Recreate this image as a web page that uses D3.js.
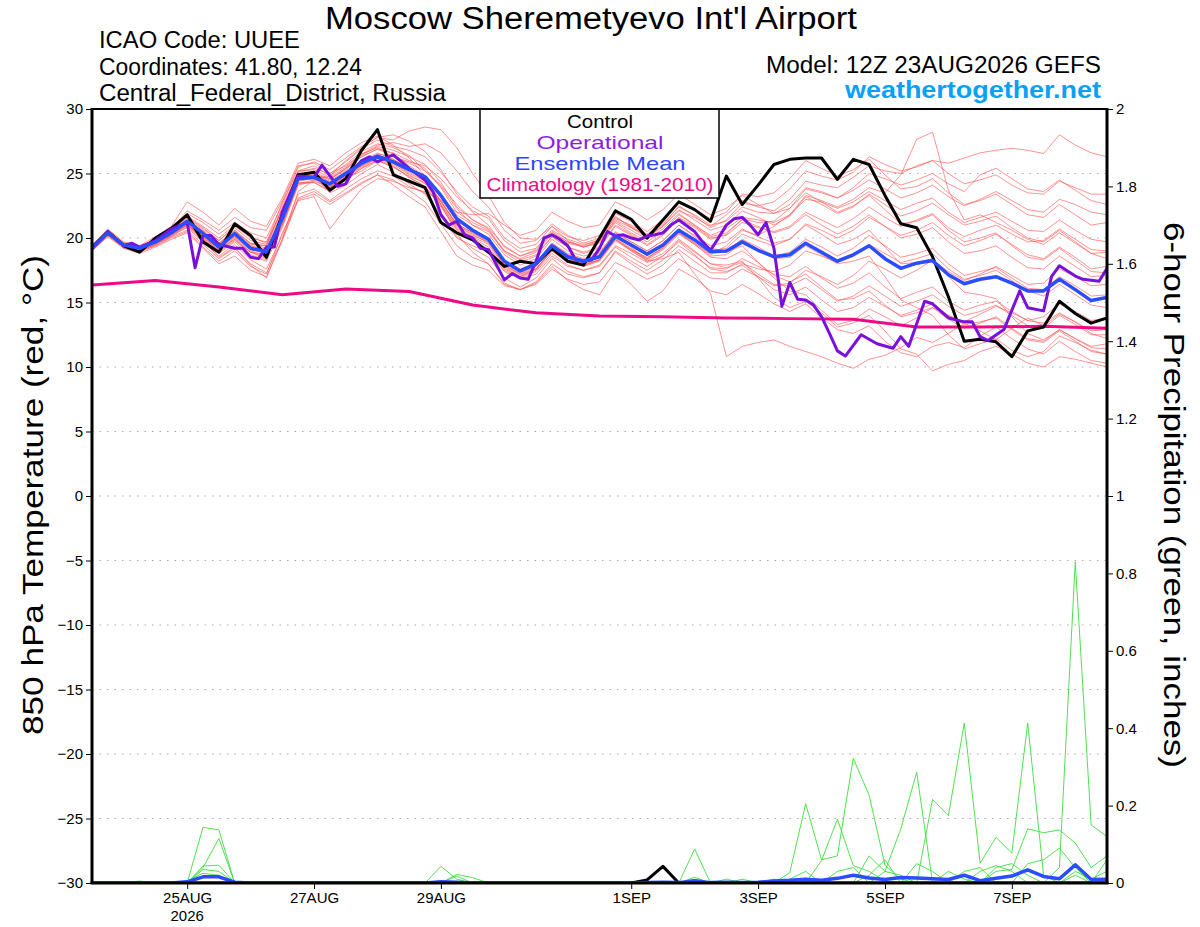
<!DOCTYPE html>
<html>
<head>
<meta charset="utf-8">
<script src="https://cdn.jsdelivr.net/npm/d3@7"></script>
<style>
  body { margin: 0; background: #fff; }
  text { font-family: "Liberation Sans", Arial, Helvetica, sans-serif; }
</style>
</head>
<body>
<div id="chart"></div>
<script>

// ---- data ----------------------------------------------------------------

// forecast starts 12Z 23AUG2026, ensemble every 6 hours
var runStart = Date.UTC(2026, 7, 23, 12);
var runEnd = Date.UTC(2026, 8, 8, 12);
var stepHours = 6;

var tempTicks = [-30, -25, -20, -15, -10, -5, 0, 5, 10, 15, 20, 25, 30];
var gridTicks = [-25, -20, -15, -10, -5, 0, 5, 10, 15, 20, 25];
var precipTicks = [0, 0.2, 0.4, 0.6, 0.8, 1, 1.2, 1.4, 1.6, 1.8, 2];
var dateTicks = [Date.UTC(2026, 7, 25), Date.UTC(2026, 7, 27), Date.UTC(2026, 7, 29),
                 Date.UTC(2026, 8, 1), Date.UTC(2026, 8, 3), Date.UTC(2026, 8, 5), Date.UTC(2026, 8, 7)];
var dateLabels = ['25AUG', '27AUG', '29AUG', '1SEP', '3SEP', '5SEP', '7SEP'];

var controlTemp = [
  19.3, 20.5, 19.4, 18.9, 20.0, 20.75, 21.8, 19.7, 18.9, 21.1, 20.2, 18.5,
  21.8, 24.9, 25.1, 23.7, 24.6, 26.8, 28.4, 24.9, 24.4, 23.9, 21.2, 20.4,
  19.85, 18.9, 17.8, 18.2, 18.0, 19.2, 18.2, 17.9, 20.0, 22.1, 21.45, 20.0, 21.4, 22.8, 22.2, 21.3,
  24.8, 22.6, 24.1, 25.7, 26.1, 26.2, 26.2, 24.55, 26.1, 25.7, 23.3, 21.1, 20.8, 18.55, 15.45,
  12.0, 12.15, 11.95, 10.8, 12.8, 13.1, 15.1, 14.15, 13.4, 13.8
];

var ensMeanTemp = [
  19.2, 20.4, 19.45, 19.2, 19.7, 20.4, 21.3, 20.35, 19.3, 20.35, 19.2, 18.95,
  21.5, 24.6, 24.7, 24.2, 25.0, 25.8, 26.35, 25.9, 25.3, 24.75, 23.3, 21.5,
  20.6, 19.9, 18.2, 17.45, 18.0, 19.4, 18.55, 18.2, 18.55, 20.15, 19.45, 18.75, 19.45, 20.6, 19.85, 18.95,
  19.0, 19.7, 19.05, 18.55, 18.7, 19.6, 18.9, 18.2, 18.7, 19.4, 18.4, 17.65, 18.05, 18.25, 17.15,
  16.45, 16.8, 17.0, 16.5, 15.9, 15.9, 16.8, 16.0, 15.15, 15.4
];

// operational run has 3-hourly output, hours after run start
var opHours = [0, 6, 12, 15, 18, 24, 30, 36, 39, 42, 45, 48, 54, 57, 60, 63, 66, 69, 72, 78,
  84, 87, 93, 96, 99, 102, 105, 108, 111, 114, 120, 126, 129, 132, 135, 138, 141, 144, 147, 150,
  156, 159, 162, 165, 168, 171, 174, 177, 180, 183, 186, 189, 192, 195, 198, 201, 204, 207, 210, 213,
  216, 219, 222, 225, 228, 231, 234, 237, 240, 243, 246, 249, 252, 255, 258, 261, 264, 267, 270, 273,
  276, 279, 282, 285, 291, 297, 303, 306, 309, 315, 318, 324, 330, 333, 336, 339, 345, 351, 354, 360,
  363, 366, 372, 375, 381, 384];
var opTemp = [19.2, 20.5, 19.4, 19.6, 19.3, 19.8, 20.7, 21.2, 17.7, 20.2, 20.2, 19.5, 19.2, 19.2, 18.5, 18.4, 19.3, 19.3, 22.0, 24.8,
  24.7, 25.65, 24.0, 24.2, 25.3, 26.0, 26.3, 25.9, 26.2, 26.45, 25.4, 24.5, 23.6, 21.8, 21.0, 21.3, 20.25, 20.0, 19.2, 19.1,
  16.75, 17.25, 16.9, 16.8, 18.2, 20.0, 20.25, 19.9, 19.4, 18.3, 18.2, 18.3, 19.2, 20.5, 20.15, 20.25, 20.0, 19.85, 20.15, 20.25,
  20.4, 21.0, 21.4, 20.95, 20.5, 19.7, 19.05, 20.0, 21.0, 21.5, 21.6, 21.0, 20.25, 21.2, 19.2, 14.7, 16.55, 15.25, 15.2, 14.8,
  13.9, 12.6, 11.25, 10.85, 12.5, 11.8, 11.45, 12.35, 11.6, 15.1, 14.9, 13.8, 13.5, 13.5, 12.35, 12.05, 12.9, 15.9, 14.6, 14.35,
  17.0, 17.85, 17.05, 16.8, 16.65, 17.65];

// 1981-2010 climatology, daily
var climHours = [0, 24, 48, 72, 96, 120, 144, 168, 192, 216, 240, 264, 288, 312, 336, 360, 384];
var climTemp = [16.35, 16.7, 16.2, 15.6, 16.05, 15.85, 14.8, 14.2, 13.95, 13.9, 13.8, 13.75, 13.7, 13.1, 13.1, 13.15, 13.0];

// ensemble members, 850 hPa temperature
var memberTemp = [
  [19.3, 20.3, 19.5, 19.1, 19.8, 20.6, 21.6, 20.8, 19.8, 20.9, 20.1, 19.6,
   22.8, 25.2, 25.6, 24.8, 25.7, 26.7, 27.3, 27.0, 26.4, 25.2, 24.1, 22.6,
   21.4, 20.8, 19.4, 18.6, 19.0, 20.4, 19.7, 19.3, 19.8, 21.4, 20.8, 20.0, 20.9, 22.1, 21.6, 20.9,
   21.8, 22.9, 22.4, 22.1, 23.0, 24.4, 24.1, 23.9, 24.7, 25.6, 25.2, 25.0, 25.6, 26.0, 25.8,
   26.2, 26.6, 26.8, 26.95, 26.8, 26.55, 28.0, 27.2, 26.6, 26.3],
  [19.1, 20.5, 19.3, 19.3, 19.6, 20.2, 21.0, 19.9, 18.8, 19.7, 18.6, 18.2,
   20.8, 24.1, 24.4, 23.9, 24.6, 25.2, 26.0, 25.5, 24.8, 24.3, 22.9, 21.0,
   20.2, 19.7, 17.9, 17.2, 17.6, 19.1, 18.2, 17.8, 18.3, 20.0, 19.2, 18.4, 19.3, 20.5, 19.6, 18.7,
   19.4, 20.6, 20.2, 20.9, 21.8, 23.3, 22.9, 22.4, 23.0, 23.9, 23.5, 24.9, 27.65, 28.2, 23.7,
   21.4, 21.8, 21.2, 20.6, 19.9, 19.5, 20.4, 19.6, 18.8, 18.9],
  [19.0, 20.2, 19.4, 19.0, 19.5, 20.3, 21.1, 20.0, 18.9, 19.8, 18.9, 18.5,
   21.0, 24.3, 24.3, 23.6, 24.5, 25.4, 26.1, 25.6, 24.7, 24.0, 22.4, 20.7,
   19.8, 19.0, 17.4, 16.8, 17.2, 18.6, 17.8, 17.5, 17.9, 19.4, 18.8, 18.1, 18.6, 19.8, 18.9, 18.0,
   17.9, 18.2, 16.9, 15.4, 14.6, 15.1, 14.2, 13.1, 13.4, 14.0, 12.8, 11.4, 11.0, 9.7, 10.2,
   10.5, 11.2, 11.6, 11.0, 10.3, 10.0, 10.8, 10.6, 10.3, 10.0],
  [19.4, 20.6, 19.6, 19.3, 19.9, 20.5, 21.4, 20.5, 19.6, 20.6, 19.5, 19.4,
   22.1, 24.9, 24.9, 24.6, 25.3, 26.3, 26.9, 26.3, 25.8, 25.2, 24.0, 22.3,
   21.0, 20.3, 18.7, 17.9, 18.4, 19.9, 19.0, 18.6, 18.9, 20.4, 19.3, 18.2, 18.4, 18.9, 17.2, 15.7,
   10.8, 11.6, 11.9, 12.1, 11.6, 11.2, 10.8, 10.3, 9.9, 10.6, 10.9, 11.5, 12.3, 11.9, 12.6,
   13.4, 12.8, 12.1, 13.0, 13.8, 13.2, 14.1, 13.5, 12.6, 12.2],
  [19.2, 20.4, 19.5, 19.2, 19.7, 20.5, 21.5, 20.6, 19.6, 20.6, 19.6, 19.2,
   21.9, 24.8, 25.0, 24.5, 25.4, 26.3, 26.9, 26.6, 26.0, 25.4, 23.9, 22.0,
   21.2, 20.6, 18.9, 18.1, 18.6, 20.1, 19.3, 18.9, 19.3, 21.0, 20.3, 19.5, 20.3, 21.6, 20.9, 20.0,
   20.2, 21.2, 20.8, 20.5, 20.9, 22.0, 21.4, 20.8, 21.5, 22.4, 21.6, 20.9, 21.4, 21.9, 20.8,
   20.1, 20.6, 21.0, 20.3, 19.7, 19.8, 20.7, 19.9, 19.1, 19.0],
  [19.1, 20.3, 19.3, 19.0, 19.5, 20.2, 20.8, 19.7, 18.6, 19.5, 18.3, 17.6,
   20.2, 23.4, 23.8, 22.9, 23.8, 24.6, 25.2, 24.8, 24.0, 23.5, 21.8, 20.1,
   19.2, 18.5, 16.9, 16.2, 16.9, 18.4, 17.4, 17.0, 17.3, 19.0, 18.2, 17.5, 18.3, 19.4, 18.6, 17.7,
   17.6, 18.4, 17.8, 17.2, 17.0, 17.8, 16.9, 16.1, 16.5, 17.3, 16.2, 15.3, 15.8, 16.2, 15.1,
   14.4, 14.8, 15.1, 14.3, 13.6, 13.4, 14.2, 13.5, 12.8, 12.9],
  [19.3, 20.5, 19.6, 19.3, 19.9, 20.7, 21.9, 21.2, 20.3, 21.2, 20.4, 20.0,
   22.6, 25.5, 25.9, 25.3, 26.2, 27.1, 27.8, 27.6, 28.3, 28.6, 28.4, 27.0,
   25.0, 23.3, 21.2, 20.0, 19.9, 20.9, 19.8, 19.3, 19.6, 21.2, 20.4, 19.7, 20.5, 21.8, 21.0, 20.2,
   20.7, 21.6, 21.4, 21.2, 21.8, 23.0, 22.8, 22.3, 22.8, 23.6, 22.9, 22.2, 22.7, 23.1, 22.0,
   21.2, 21.6, 22.0, 21.3, 20.6, 20.5, 21.4, 20.6, 19.9, 19.7],
  [19.0, 20.1, 19.2, 18.8, 19.3, 19.9, 20.4, 19.2, 18.0, 18.6, 17.5, 17.0,
   19.8, 23.0, 23.4, 22.6, 23.4, 24.2, 24.9, 24.5, 23.7, 22.8, 21.1, 19.4,
   18.5, 18.0, 16.4, 16.0, 16.6, 18.0, 17.2, 16.9, 17.3, 18.9, 18.0, 17.2, 17.9, 19.1, 18.2, 17.3,
   17.3, 18.0, 17.6, 17.4, 17.9, 19.0, 18.6, 18.1, 18.6, 19.5, 18.8, 18.1, 18.4, 18.8, 17.6,
   16.8, 17.1, 17.5, 16.7, 15.9, 15.5, 16.4, 15.6, 14.8, 14.6],
  [19.2, 20.4, 19.4, 19.1, 19.7, 20.4, 21.2, 20.3, 19.4, 20.4, 19.4, 19.0,
   21.4, 24.6, 24.8, 24.2, 25.0, 25.9, 26.5, 26.3, 25.9, 25.6, 24.6, 23.2,
   22.1, 21.5, 19.8, 18.9, 19.2, 20.6, 19.9, 19.5, 19.8, 21.5, 21.0, 20.3, 21.1, 22.4, 21.8, 21.0,
   21.3, 22.4, 22.0, 21.9, 22.6, 23.9, 23.6, 23.1, 23.7, 24.5, 23.8, 23.1, 23.5, 24.1, 23.2,
   22.5, 23.0, 23.6, 22.9, 22.2, 22.0, 23.0, 22.6, 22.0, 21.8],
  [19.2, 20.4, 19.5, 19.1, 19.6, 20.3, 21.0, 20.1, 19.0, 20.0, 18.9, 18.7,
   21.3, 24.4, 24.6, 24.0, 24.7, 25.5, 26.2, 25.8, 25.0, 24.4, 22.6, 20.9,
   20.1, 19.5, 17.8, 17.1, 17.6, 19.0, 18.1, 17.8, 18.2, 19.8, 19.0, 18.3, 19.1, 20.3, 19.5, 18.6,
   18.7, 19.6, 19.0, 18.4, 18.5, 19.4, 18.7, 18.0, 18.2, 18.6, 17.0, 15.2, 14.6, 14.0, 12.5,
   11.4, 11.8, 12.2, 11.3, 10.8, 11.2, 12.4, 11.9, 11.3, 11.0],
  [19.3, 20.4, 19.5, 19.3, 19.8, 20.5, 21.3, 20.4, 19.5, 20.5, 19.6, 19.4,
   22.4, 25.0, 25.0, 24.3, 25.1, 25.9, 26.4, 26.0, 25.4, 24.6, 22.9, 21.1,
   20.4, 19.8, 18.1, 17.4, 18.0, 19.6, 18.7, 18.3, 18.7, 20.4, 19.7, 19.0, 19.8, 21.0, 20.1, 19.2,
   19.0, 19.9, 19.3, 18.6, 18.9, 19.9, 19.3, 18.6, 19.2, 20.2, 19.4, 18.5, 18.8, 19.2, 18.0,
   17.1, 17.4, 17.7, 16.9, 16.1, 16.0, 17.0, 16.3, 15.5, 15.6],
  [19.1, 20.3, 19.4, 19.2, 19.6, 20.3, 21.1, 20.2, 19.1, 20.1, 19.0, 18.6,
   21.1, 24.2, 24.3, 23.7, 24.6, 25.4, 26.0, 25.5, 24.7, 24.0, 22.5, 20.6,
   19.9, 19.1, 17.6, 17.0, 17.5, 19.0, 18.2, 17.9, 18.3, 19.9, 19.1, 18.5, 19.2, 20.4, 19.6, 18.8,
   18.9, 19.4, 18.1, 16.9, 15.9, 15.6, 14.4, 13.3, 13.6, 14.5, 13.9, 13.2, 13.8, 14.6, 14.0,
   13.5, 14.1, 14.7, 14.2, 13.6, 13.9, 14.9, 14.3, 13.6, 13.8],
  [19.2, 20.5, 19.5, 19.2, 19.8, 20.6, 21.7, 20.9, 20.0, 21.0, 20.0, 19.7,
   22.2, 25.1, 25.4, 25.0, 25.9, 26.9, 27.6, 27.1, 26.8, 26.3, 25.1, 23.6,
   22.4, 21.7, 20.0, 19.2, 19.5, 20.9, 20.1, 19.8, 20.2, 21.9, 21.3, 20.5, 21.4, 22.8, 22.2, 21.5,
   22.0, 23.4, 23.2, 23.5, 24.6, 26.0, 25.4, 24.8, 25.3, 26.1, 24.9, 23.8, 24.0, 24.6, 23.5,
   22.6, 22.9, 23.4, 22.6, 21.8, 21.6, 22.6, 21.8, 21.0, 21.2],
  [19.0, 20.2, 19.3, 19.0, 19.4, 20.1, 20.6, 19.5, 18.4, 19.2, 18.0, 17.3,
   19.9, 23.1, 23.6, 22.8, 23.5, 24.3, 24.9, 24.1, 23.2, 22.4, 20.5, 18.6,
   17.9, 17.5, 16.3, 16.0, 16.5, 17.8, 16.7, 16.0, 15.6, 17.5, 16.4, 15.1, 15.9, 17.6, 16.9, 15.9,
   15.6, 16.4, 15.7, 14.9, 14.3, 14.9, 13.8, 12.9, 12.6, 13.2, 12.0, 11.1, 10.8, 11.6, 11.9,
   11.5, 12.4, 13.1, 12.2, 11.4, 11.0, 12.0, 11.2, 10.5, 10.3],
  [19.3, 20.6, 19.6, 19.3, 19.9, 20.7, 22.1, 21.4, 20.6, 21.6, 20.8, 20.6,
   22.9, 25.6, 25.8, 25.0, 25.6, 26.5, 27.2, 27.4, 27.1, 27.3, 26.6, 25.2,
   23.6, 22.4, 20.6, 19.6, 19.8, 21.1, 20.2, 19.6, 20.0, 21.6, 20.9, 20.1, 20.9, 22.2, 21.4, 20.6,
   21.0, 22.1, 21.6, 21.0, 21.7, 23.2, 22.6, 21.9, 22.4, 23.4, 22.6, 21.7, 22.1, 22.7, 21.8,
   21.0, 21.3, 21.7, 20.8, 20.0, 19.7, 20.6, 19.7, 18.8, 18.4],
  [19.2, 20.3, 19.4, 19.1, 19.7, 20.4, 21.2, 20.0, 19.1, 19.9, 18.7, 18.3,
   21.6, 24.5, 24.7, 24.0, 24.8, 25.7, 26.4, 26.1, 25.4, 24.8, 23.1, 21.3,
   20.6, 19.9, 18.3, 17.6, 18.1, 19.6, 18.8, 18.4, 18.8, 20.5, 19.7, 19.0, 19.8, 21.0, 20.2, 19.4,
   19.7, 20.7, 20.1, 19.6, 19.9, 21.0, 20.3, 19.5, 19.9, 20.6, 19.3, 18.0, 18.1, 18.4, 17.0,
   15.8, 15.6, 15.3, 13.9, 12.6, 12.1, 12.9, 12.2, 11.6, 11.8],
  [19.2, 20.5, 19.4, 19.2, 19.6, 20.3, 21.0, 20.1, 19.2, 20.1, 19.1, 18.8,
   21.6, 24.7, 24.9, 24.4, 25.2, 26.0, 26.6, 26.1, 25.3, 24.5, 22.8, 21.0,
   20.3, 19.6, 17.9, 17.2, 17.8, 19.3, 18.4, 18.1, 18.5, 20.2, 19.4, 18.7, 19.5, 20.7, 19.9, 19.0,
   19.2, 20.3, 19.8, 19.4, 19.9, 21.1, 20.6, 20.0, 20.6, 21.6, 20.9, 20.2, 20.6, 21.2, 20.2,
   19.4, 19.8, 20.3, 19.5, 18.7, 18.4, 19.3, 18.5, 17.6, 17.8],
  [19.1, 20.4, 19.4, 19.2, 19.6, 20.2, 21.0, 19.9, 19.0, 19.9, 18.9, 18.4,
   21.0, 24.2, 24.5, 23.9, 24.7, 25.6, 26.2, 25.7, 24.9, 24.2, 22.6, 20.8,
   20.0, 19.3, 17.7, 17.0, 17.6, 19.1, 18.3, 17.9, 18.3, 19.9, 19.1, 18.4, 19.2, 20.4, 19.5, 18.5,
   18.4, 19.0, 18.1, 17.1, 16.6, 17.2, 16.2, 15.2, 15.3, 15.9, 14.8, 13.9, 14.2, 14.6, 13.7,
   13.0, 13.4, 13.9, 13.0, 12.2, 12.0, 12.9, 12.2, 11.5, 11.4],
  [19.2, 20.4, 19.5, 19.2, 19.8, 20.5, 21.4, 20.5, 19.5, 20.5, 19.4, 19.1,
   21.8, 24.9, 25.1, 24.6, 25.4, 26.4, 27.1, 26.8, 26.3, 25.7, 24.3, 22.4,
   21.4, 20.7, 19.0, 18.3, 18.7, 20.1, 19.3, 18.8, 19.2, 20.9, 20.2, 19.4, 20.2, 21.5, 20.8, 19.9,
   20.3, 21.5, 21.2, 21.3, 22.3, 23.8, 23.5, 23.1, 23.9, 25.0, 24.6, 24.1, 24.5, 25.0, 24.2,
   23.6, 24.9, 25.4, 24.6, 23.8, 23.6, 24.5, 23.7, 22.9, 22.6],
  [19.2, 20.3, 19.4, 19.2, 19.6, 20.3, 21.2, 20.2, 19.2, 20.2, 19.1, 18.9,
   21.3, 24.5, 24.6, 24.0, 24.8, 25.6, 26.2, 25.8, 25.1, 24.5, 22.8, 21.1,
   20.4, 19.7, 18.0, 17.3, 17.8, 19.2, 18.4, 18.0, 18.3, 19.9, 19.0, 18.2, 18.8, 19.9, 19.0, 18.0,
   17.7, 18.1, 17.2, 16.4, 16.3, 16.9, 16.0, 15.1, 15.5, 16.3, 15.5, 14.7, 15.1, 15.6, 14.7,
   14.0, 14.3, 14.8, 14.0, 13.2, 13.0, 14.0, 13.3, 12.5, 12.5],
  [19.0, 20.2, 19.2, 18.9, 19.4, 20.0, 20.5, 19.3, 18.2, 19.0, 17.8, 17.2,
   20.4, 22.9, 23.2, 20.7, 22.3, 23.8, 24.6, 24.4, 23.9, 23.6, 22.9, 22.0,
   21.8, 21.9, 21.0, 20.2, 20.6, 22.0, 21.3, 20.8, 21.0, 22.8, 22.2, 21.4, 22.2, 23.4, 22.6, 21.8,
   22.3, 23.3, 22.6, 21.9, 22.3, 23.5, 22.8, 22.0, 22.5, 23.3, 22.2, 21.1, 21.3, 21.8, 20.6,
   19.7, 20.0, 20.4, 19.4, 18.5, 18.3, 19.2, 18.3, 17.4, 17.3],
  [19.4, 20.7, 19.7, 19.4, 20.1, 20.9, 22.8, 22.0, 21.0, 22.3, 21.3, 20.9,
   23.1, 25.8, 26.1, 25.6, 26.6, 27.4, 27.9, 27.2, 26.2, 24.8, 22.6, 20.3,
   18.9, 18.0, 16.5, 16.0, 16.4, 17.6, 16.8, 16.4, 16.6, 18.1, 17.5, 16.8, 17.3, 18.4, 17.6, 16.9,
   16.8, 17.6, 17.0, 16.3, 16.5, 17.5, 17.0, 16.4, 17.1, 18.2, 17.6, 16.9, 17.5, 18.3, 17.4,
   16.7, 17.2, 17.8, 17.1, 16.4, 16.5, 17.6, 17.0, 16.3, 16.4],
  [19.1, 20.2, 19.3, 19.0, 19.5, 20.1, 20.9, 19.8, 18.5, 19.3, 17.9, 16.9,
   19.9, 23.6, 24.5, 24.8, 26.0, 27.0, 27.8, 28.0, 27.5, 26.7, 25.3, 23.4,
   22.0, 21.0, 19.3, 18.6, 19.1, 20.5, 19.7, 19.4, 19.9, 21.7, 20.8, 20.2, 21.0, 22.5, 21.7, 20.8,
   21.4, 22.7, 22.5, 22.8, 23.8, 25.2, 24.8, 24.5, 25.1, 26.3, 25.7, 25.2, 25.5, 26.0, 25.0,
   24.2, 24.5, 24.9, 24.1, 23.5, 23.4, 24.4, 23.9, 23.4, 23.4],
  [19.2, 20.4, 19.5, 19.2, 19.7, 20.4, 21.2, 20.3, 19.3, 20.2, 19.2, 18.9,
   21.7, 24.8, 24.8, 23.5, 24.1, 25.0, 25.7, 25.1, 24.2, 23.4, 21.7, 20.0,
   19.4, 18.9, 17.5, 16.9, 17.4, 18.8, 17.9, 17.5, 17.8, 19.3, 18.5, 17.8, 18.6, 19.7, 18.7, 17.6,
   17.4, 17.9, 17.0, 16.0, 15.6, 16.2, 15.2, 14.3, 14.6, 15.4, 14.7, 14.0, 14.4, 14.9, 14.0,
   13.3, 13.5, 13.8, 12.9, 12.1, 11.9, 12.8, 12.0, 11.2, 11.0],
  [19.3, 20.5, 19.5, 19.2, 19.8, 20.6, 21.6, 20.7, 19.8, 20.8, 19.8, 19.5,
   22.3, 25.2, 25.3, 24.7, 25.5, 26.5, 27.0, 26.5, 25.6, 24.8, 23.4, 21.8,
   21.0, 20.5, 19.0, 18.4, 18.9, 20.3, 19.6, 19.3, 19.7, 21.3, 20.6, 19.9, 20.7, 21.9, 21.0, 20.1,
   20.4, 21.4, 20.9, 20.4, 20.8, 21.8, 21.0, 20.3, 20.9, 21.8, 20.9, 20.0, 20.3, 20.8, 19.7,
   18.8, 19.0, 19.4, 18.5, 17.7, 17.6, 18.6, 17.8, 17.0, 17.1]
];

// 6-hour precipitation (inches)
var controlPrecip = [
  0, 0, 0, 0, 0, 0, 0, 0, 0, 0,
  0, 0, 0, 0, 0, 0, 0, 0, 0, 0,
  0, 0, 0, 0, 0, 0, 0, 0, 0, 0,
  0, 0, 0, 0, 0, 0.008, 0.043, 0, 0, 0,
  0, 0, 0, 0, 0, 0, 0, 0, 0, 0,
  0, 0, 0, 0, 0, 0, 0, 0, 0, 0,
  0, 0, 0, 0, 0
];

var ensMeanPrecip = [
  0, 0, 0, 0, 0, 0, 0.003, 0.016, 0.016, 0.002,
  0, 0, 0, 0, 0, 0, 0, 0, 0, 0,
  0, 0, 0.003, 0.002, 0, 0, 0, 0, 0, 0,
  0, 0, 0, 0, 0, 0.001, 0.002, 0.001, 0.006, 0.001,
  0.002, 0.001, 0.002, 0.005, 0.007, 0.01, 0.007, 0.012, 0.02, 0.013,
  0.009, 0.014, 0.013, 0.011, 0.009, 0.02, 0.006, 0.012, 0.018, 0.034,
  0.017, 0.011, 0.047, 0.009, 0.01
];

var memberPrecip = [
  [0, 0, 0, 0, 0, 0, 0, 0.144, 0.137, 0,
   0, 0, 0, 0, 0, 0, 0, 0, 0, 0,
   0, 0, 0, 0, 0, 0, 0, 0, 0, 0,
   0, 0, 0, 0, 0, 0, 0, 0, 0.015, 0,
   0, 0, 0, 0, 0.027, 0.205, 0.06, 0.07, 0.322, 0.227,
   0.046, 0.01, 0, 0, 0, 0, 0, 0, 0, 0,
   0, 0, 0, 0, 0],
  [0, 0, 0, 0, 0, 0, 0, 0.04, 0.115, 0,
   0, 0, 0, 0, 0, 0, 0, 0, 0, 0,
   0, 0, 0.043, 0.01, 0, 0, 0, 0, 0, 0,
   0, 0, 0, 0, 0, 0, 0, 0, 0, 0,
   0, 0, 0, 0, 0, 0, 0.058, 0.165, 0.045, 0.03,
   0.005, 0, 0, 0, 0, 0, 0, 0.03, 0.035, 0.14,
   0.13, 0.137, 0.103, 0.04, 0.07],
  [0, 0, 0, 0, 0, 0, 0, 0.044, 0.046, 0,
   0, 0, 0, 0, 0, 0, 0, 0, 0, 0,
   0, 0, 0, 0.022, 0.014, 0, 0, 0, 0, 0,
   0, 0, 0, 0, 0, 0, 0, 0, 0, 0,
   0.01, 0, 0, 0, 0, 0, 0, 0, 0, 0,
   0.03, 0.14, 0.286, 0, 0, 0.03, 0.04, 0, 0, 0,
   0, 0, 0, 0, 0],
  [0, 0, 0, 0, 0, 0, 0, 0.035, 0.03, 0,
   0, 0, 0, 0, 0, 0, 0, 0, 0, 0,
   0, 0, 0, 0.018, 0, 0, 0, 0, 0, 0,
   0, 0, 0, 0, 0, 0, 0, 0, 0, 0,
   0, 0, 0, 0, 0, 0, 0, 0, 0, 0,
   0, 0, 0, 0.216, 0.174, 0.413, 0.051, 0.118, 0.077, 0.413,
   0.02, 0, 0, 0, 0],
  [0, 0, 0, 0, 0, 0, 0.005, 0.025, 0.02, 0,
   0, 0, 0, 0, 0, 0, 0, 0, 0, 0,
   0, 0, 0, 0, 0, 0, 0, 0, 0, 0,
   0, 0, 0, 0, 0, 0, 0, 0, 0.088, 0,
   0, 0, 0, 0, 0, 0, 0, 0, 0, 0,
   0, 0, 0, 0, 0, 0, 0, 0, 0, 0,
   0, 0.04, 0.83, 0.15, 0.12],
  [0, 0, 0, 0.005, 0, 0, 0, 0, 0, 0,
   0, 0, 0, 0, 0, 0, 0, 0, 0, 0,
   0, 0, 0, 0, 0, 0, 0, 0, 0, 0,
   0, 0, 0, 0, 0, 0, 0, 0, 0, 0,
   0, 0, 0, 0, 0.01, 0.03, 0, 0, 0, 0.07,
   0.03, 0.02, 0, 0, 0.03, 0.01, 0, 0.04, 0.05, 0.02,
   0, 0, 0.03, 0.01, 0.03],
  [0, 0, 0, 0, 0, 0, 0, 0, 0, 0,
   0, 0, 0, 0, 0, 0, 0, 0, 0, 0,
   0, 0, 0, 0, 0, 0, 0, 0, 0, 0,
   0, 0, 0, 0, 0, 0, 0, 0, 0, 0,
   0, 0, 0, 0.01, 0, 0, 0, 0.03, 0.04, 0,
   0, 0, 0.05, 0.03, 0, 0, 0.03, 0.045, 0.03, 0,
   0, 0, 0.02, 0, 0.06],
  [0, 0, 0, 0, 0, 0, 0, 0, 0, 0,
   0, 0, 0, 0, 0, 0, 0, 0, 0, 0,
   0, 0, 0, 0, 0, 0, 0, 0, 0, 0,
   0, 0, 0, 0, 0, 0, 0, 0, 0.01, 0,
   0, 0.01, 0, 0, 0, 0, 0, 0, 0, 0.02,
   0.06, 0, 0, 0, 0, 0, 0, 0, 0, 0.05,
   0.06, 0.09, 0.04, 0, 0]
];


// ---- chart ---------------------------------------------------------------

var width = 1200;
var height = 927;
var plotLeft = 92;
var plotRight = 1107;
var plotTop = 109;
var plotBottom = 883;

var memberColor = '#ff5555';
var precipColor = '#3ddc3d';
var controlColor = '#000000';
var opColor = '#7a10dc';
var meanColor = '#2a4dff';
var climColor = '#ee0a84';

var svg = d3.select('#chart')
		.append('svg')
		.attr('width', width)
		.attr('height', height);

var x = d3.scaleUtc()
		.domain([runStart, runEnd])
		.range([plotLeft, plotRight]);

var yTemp = d3.scaleLinear()
		.domain([-30, 30])
		.range([plotBottom, plotTop]);

var yPrecip = d3.scaleLinear()
		.domain([0, 2])
		.range([plotBottom, plotTop]);

function hourTime(h) {
	return new Date(runStart + h * 3600 * 1000);
}

var stepLine = function (yScale) {
	return d3.line()
		.x(function (d, i) { return x(hourTime(i * stepHours)); })
		.y(function (d) { return yScale(d); });
};

var hourLine = function (hours) {
	return d3.line()
		.x(function (d, i) { return x(hourTime(hours[i])); })
		.y(function (d) { return yTemp(d); });
};

// clip
svg.append('clipPath')
		.attr('id', 'plot-clip')
		.append('rect')
		.attr('x', plotLeft)
		.attr('y', plotTop)
		.attr('width', plotRight - plotLeft)
		.attr('height', plotBottom - plotTop);

// dotted grid
svg.append('g')
		.selectAll('line')
		.data(gridTicks)
		.enter()
		.append('line')
		.attr('x1', plotLeft)
		.attr('x2', plotRight)
		.attr('y1', function (d) { return yTemp(d); })
		.attr('y2', function (d) { return yTemp(d); })
		// style
		.attr('stroke', '#aaa')
		.attr('stroke-width', 1.2)
		.attr('stroke-dasharray', '1.5,6');

var plot = svg.append('g')
		.attr('clip-path', 'url(#plot-clip)')
		.attr('fill', 'none')
		.attr('stroke-linejoin', 'round');

// ensemble members
plot.append('g')
		.selectAll('path')
		.data(memberTemp)
		.enter()
		.append('path')
		.attr('d', stepLine(yTemp))
		// style
		.attr('stroke', memberColor)
		.attr('stroke-opacity', 0.8)
		.attr('stroke-width', 0.8);

plot.append('g')
		.selectAll('path')
		.data(memberPrecip)
		.enter()
		.append('path')
		.attr('d', stepLine(yPrecip))
		// style
		.attr('stroke', precipColor)
		.attr('stroke-width', 0.9);

// climatology
plot.append('path')
		.datum(climTemp)
		.attr('d', hourLine(climHours))
		.attr('stroke', climColor)
		.attr('stroke-width', 3);

// control
plot.append('path')
		.datum(controlTemp)
		.attr('d', stepLine(yTemp))
		.attr('stroke', controlColor)
		.attr('stroke-width', 3);

plot.append('path')
		.datum(controlPrecip)
		.attr('d', stepLine(yPrecip))
		.attr('stroke', controlColor)
		.attr('stroke-width', 3);

// operational
plot.append('path')
		.datum(opTemp)
		.attr('d', hourLine(opHours))
		.attr('stroke', opColor)
		.attr('stroke-width', 3);

// ensemble mean
plot.append('path')
		.datum(ensMeanTemp)
		.attr('d', stepLine(yTemp))
		.attr('stroke', meanColor)
		.attr('stroke-width', 3.5);

plot.append('path')
		.datum(ensMeanPrecip)
		.attr('d', stepLine(yPrecip))
		.attr('stroke', meanColor)
		.attr('stroke-width', 3.5);

// legend box
var legend = svg.append('g');

legend.append('rect')
		.attr('x', 480)
		.attr('y', plotTop)
		.attr('width', 239)
		.attr('height', 89)
		.attr('fill', '#fff')
		.attr('stroke', '#000')
		.attr('stroke-width', 1.5);

var legendItems = [
	{ label: 'Control', color: '#000', len: 66 },
	{ label: 'Operational', color: '#8a1ee6', len: 127 },
	{ label: 'Ensemble Mean', color: '#2d45ff', len: 171 },
	{ label: 'Climatology (1981-2010)', color: '#ee0a84', len: 227 }
];

legend.selectAll('text')
		.data(legendItems)
		.enter()
		.append('text')
		.attr('x', 600)
		.attr('y', function (d, i) { return 128 + i * 21; })
		.attr('text-anchor', 'middle')
		.attr('font-size', '19px')
		.attr('textLength', function (d) { return d.len; })
		.attr('lengthAdjust', 'spacingAndGlyphs')
		.attr('fill', function (d) { return d.color; })
		.text(function (d) { return d.label; });

// axes
var leftAxis = svg.append('g')
		.attr('transform', 'translate(' + plotLeft + ',0)')
		.call(d3.axisLeft(yTemp).tickValues(tempTicks).tickSize(6).tickPadding(3));

var rightAxis = svg.append('g')
		.attr('transform', 'translate(' + plotRight + ',0)')
		.call(d3.axisRight(yPrecip).tickValues(precipTicks).tickSize(6).tickPadding(3)
			.tickFormat(d3.format('~g')));

var bottomAxis = svg.append('g')
		.attr('transform', 'translate(0,' + plotBottom + ')')
		.call(d3.axisBottom(x).tickValues(dateTicks.map(function (d) { return new Date(d); }))
			.tickSize(6).tickPadding(3)
			.tickFormat(function (d, i) { return dateLabels[i]; }));

[leftAxis, rightAxis, bottomAxis].forEach(function (ax) {
	ax.select('.domain').remove();
	ax.attr('font-family', '"Liberation Sans", Arial, sans-serif')
		.attr('font-size', 15);
	ax.selectAll('.tick line').attr('stroke', '#000').attr('stroke-width', 1);
	ax.selectAll('.tick text').attr('fill', '#000');
});

// year under first date
svg.append('text')
		.attr('x', x(new Date(dateTicks[0])))
		.attr('y', 921)
		.attr('text-anchor', 'middle')
		.attr('font-size', '15px')
		.text('2026');

// frame
svg.append('line')
		.attr('x1', plotLeft).attr('x2', plotRight)
		.attr('y1', plotTop).attr('y2', plotTop)
		.attr('stroke', '#000').attr('stroke-width', 2);

svg.append('line')
		.attr('x1', plotLeft - 1.5).attr('x2', plotRight + 1.5)
		.attr('y1', plotBottom).attr('y2', plotBottom)
		.attr('stroke', '#000').attr('stroke-width', 3);

svg.append('line')
		.attr('x1', plotLeft).attr('x2', plotLeft)
		.attr('y1', plotTop - 1).attr('y2', plotBottom)
		.attr('stroke', '#000').attr('stroke-width', 3);

svg.append('line')
		.attr('x1', plotRight).attr('x2', plotRight)
		.attr('y1', plotTop - 1).attr('y2', plotBottom)
		.attr('stroke', '#000').attr('stroke-width', 3);

// titles
svg.append('text')
		.attr('x', 591)
		.attr('y', 29)
		.attr('text-anchor', 'middle')
		.attr('font-size', '31px')
		.attr('textLength', 532)
		.attr('lengthAdjust', 'spacingAndGlyphs')
		.text("Moscow Sheremetyevo Int'l Airport");

var infoLines = [
	{ label: 'ICAO Code: UUEE', y: 48, len: 201 },
	{ label: 'Coordinates: 41.80, 12.24', y: 75, len: 263 },
	{ label: 'Central_Federal_District, Russia', y: 101, len: 347 }
];

svg.append('g')
		.selectAll('text')
		.data(infoLines)
		.enter()
		.append('text')
		.attr('x', 99)
		.attr('y', function (d) { return d.y; })
		.attr('font-size', '23px')
		.attr('textLength', function (d) { return d.len; })
		.attr('lengthAdjust', 'spacingAndGlyphs')
		.text(function (d) { return d.label; });

svg.append('text')
		.attr('x', 1101)
		.attr('y', 73)
		.attr('text-anchor', 'end')
		.attr('font-size', '23px')
		.attr('textLength', 335)
		.attr('lengthAdjust', 'spacingAndGlyphs')
		.text('Model: 12Z 23AUG2026 GEFS');

svg.append('text')
		.attr('x', 1101)
		.attr('y', 98)
		.attr('text-anchor', 'end')
		.attr('font-size', '24px')
		.attr('font-weight', 'bold')
		.attr('fill', '#0aa0f5')
		.attr('textLength', 256)
		.attr('lengthAdjust', 'spacingAndGlyphs')
		.text('weathertogether.net');

// axis titles
svg.append('text')
		.attr('transform', 'translate(43,495) rotate(-90)')
		.attr('text-anchor', 'middle')
		.attr('font-size', '29px')
		.attr('textLength', 480)
		.attr('lengthAdjust', 'spacingAndGlyphs')
		.text('850 hPa Temperature (red, °C)');

svg.append('text')
		.attr('transform', 'translate(1164,495) rotate(90)')
		.attr('text-anchor', 'middle')
		.attr('font-size', '29px')
		.attr('textLength', 546)
		.attr('lengthAdjust', 'spacingAndGlyphs')
		.text('6-hour Precipitation (green, inches)');

</script>
</body>
</html>
